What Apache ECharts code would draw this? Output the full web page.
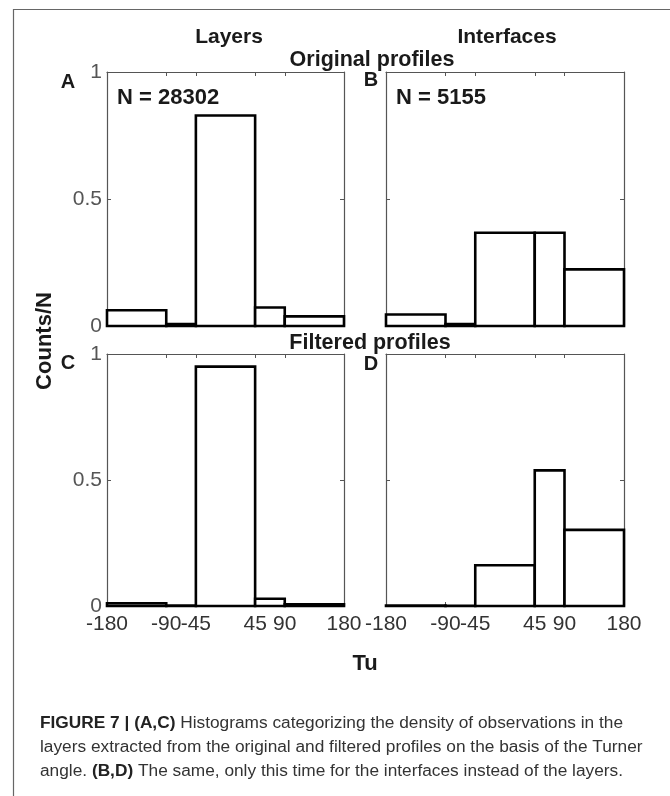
<!DOCTYPE html>
<html>
<head>
<meta charset="utf-8">
<script src="https://cdn.jsdelivr.net/npm/echarts@6/dist/echarts.min.js"></script>
<style>html,body{margin:0;padding:0;background:#fff}#chart{width:670px;height:796px}</style>
</head>
<body>
<div id="chart"></div>
<script>
// ---- data ----
const binEdges = [-180, -90, -45, 45, 90, 180];
const xTickValues = [-180, -90, -45, 45, 90, 180];
const yTickValues = [0, 0.5, 1];
const layersOriginal = [0.062, 0.008, 0.829, 0.073, 0.038];
const interfacesOriginal = [0.045, 0.008, 0.367, 0.367, 0.223];
const layersFiltered = [0.011, 0.002, 0.950, 0.029, 0.007];
const interfacesFiltered = [0.002, 0.001, 0.162, 0.538, 0.302];
const panelLetters = ['A', 'B', 'C', 'D'];
const countLabels = ['N = 28302', 'N = 5155'];
const columnTitles = ['Layers', 'Interfaces'];
const rowTitles = ['Original profiles', 'Filtered profiles'];
const xAxisName = 'Tu';
const yAxisName = 'Counts/N';
const captionLines = [
  '{b|FIGURE 7 | (A,C)} Histograms categorizing the density of observations in the',
  'layers extracted from the original and filtered profiles on the basis of the Turner',
  'angle. {b|(B,D)} The same, only this time for the interfaces instead of the layers.'
];

// ---- layout ----
const FONT = '"Liberation Sans", Arial, sans-serif';
const panels = [
  { values: layersOriginal,     left: 107, top: 72,  width: 237, height: 254, showX: false, showY: true },
  { values: interfacesOriginal, left: 386, top: 72,  width: 238, height: 254, showX: false, showY: false },
  { values: layersFiltered,     left: 107, top: 354, width: 237, height: 252, showX: true,  showY: true },
  { values: interfacesFiltered, left: 386, top: 354, width: 238, height: 252, showX: true,  showY: false }
];

const grids = [], xAxes = [], yAxes = [], series = [];
const axisLine = { show: true, onZero: false, lineStyle: { color: '#555', width: 1.2 } };
const tick = { show: true, inside: true, length: 4, lineStyle: { color: '#555' } };
panels.forEach((p, k) => {
  grids.push({ left: p.left, top: p.top, width: p.width, height: p.height, containLabel: false });
  xAxes.push({
    type: 'value', gridIndex: k, min: -180, max: 180, position: 'bottom',
    axisLine: axisLine,
    axisTick: Object.assign({ customValues: xTickValues }, tick),
    axisLabel: { show: p.showX, customValues: xTickValues, margin: 8, fontSize: 21, color: '#333', fontFamily: FONT },
    splitLine: { show: false }
  });
  xAxes.push({
    type: 'value', gridIndex: k, min: -180, max: 180, position: 'top',
    axisLine: axisLine,
    axisTick: Object.assign({ customValues: xTickValues }, tick),
    axisLabel: { show: false },
    splitLine: { show: false }
  });
  yAxes.push({
    type: 'value', gridIndex: k, min: 0, max: 1, position: 'left',
    axisLine: axisLine,
    axisTick: Object.assign({ customValues: yTickValues }, tick),
    axisLabel: { show: p.showY, customValues: yTickValues, margin: 5, fontSize: 21, color: '#555', fontFamily: FONT },
    splitLine: { show: false }
  });
  yAxes.push({
    type: 'value', gridIndex: k, min: 0, max: 1, position: 'right',
    axisLine: axisLine,
    axisTick: Object.assign({ customValues: yTickValues }, tick),
    axisLabel: { show: false },
    splitLine: { show: false }
  });
  const data = p.values.map((v, i) => [binEdges[i], binEdges[i + 1], v]);
  series.push({
    type: 'custom', xAxisIndex: 2 * k, yAxisIndex: 2 * k, data: data,
    encode: { x: [0, 1], y: 2 },
    clip: false, z: 5,
    renderItem: function (params, api) {
      const a = api.coord([api.value(0), 0]);
      const b = api.coord([api.value(1), api.value(2)]);
      return {
        type: 'rect',
        shape: { x: a[0], y: b[1], width: b[0] - a[0], height: a[1] - b[1] },
        style: { fill: '#fff', stroke: '#000', lineWidth: 2.6 }
      };
    }
  });
});

function txt(x, y, text, size, opts) {
  opts = opts || {};
  return {
    type: 'text', x: x, y: y, rotation: opts.rotation || 0, z: 10,
    style: {
      text: text, fontSize: size, fontWeight: opts.weight || 'bold', fontFamily: FONT,
      fill: opts.color || '#1a1a1a', align: opts.align || 'center', verticalAlign: 'middle',
      rich: opts.rich
    }
  };
}

const graphics = [
  { type: 'polyline', shape: { points: [[13.5, 796], [13.5, 9.5], [670, 9.5]] }, style: { stroke: '#666', lineWidth: 1.2, fill: null } },
  txt(229, 37, columnTitles[0], 21),
  txt(507, 37, columnTitles[1], 21),
  txt(372, 60, rowTitles[0], 21.5),
  txt(370, 343, rowTitles[1], 21.5),
  txt(68, 82, panelLetters[0], 20),
  txt(371, 80, panelLetters[1], 20),
  txt(68, 363, panelLetters[2], 20),
  txt(371, 364, panelLetters[3], 20),
  txt(117, 98, countLabels[0], 22, { align: 'left' }),
  txt(396, 98, countLabels[1], 22, { align: 'left' }),
  txt(45, 341, yAxisName, 22, { rotation: Math.PI / 2 }),
  txt(365, 664, xAxisName, 22)
];
captionLines.forEach((line, i) => {
  graphics.push(txt(40, 723 + i * 24, line, 17.3, {
    align: 'left', weight: 'normal', color: '#333',
    rich: { b: { fontWeight: 'bold', fontSize: 17.3, fontFamily: FONT, fill: '#222' } }
  }));
});

const chart = echarts.init(document.getElementById('chart'));
chart.setOption({
  backgroundColor: '#fff',
  animation: false,
  grid: grids,
  xAxis: xAxes,
  yAxis: yAxes,
  series: series,
  graphic: { elements: graphics }
});
</script>
</body>
</html>
